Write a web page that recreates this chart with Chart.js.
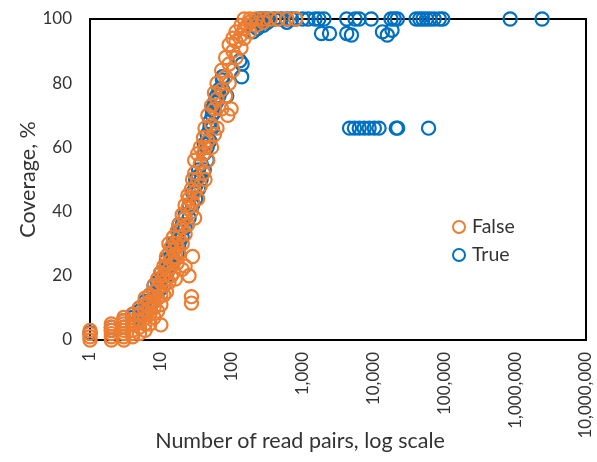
<!DOCTYPE html>
<html>
<head>
<meta charset="utf-8">
<script src="https://cdn.jsdelivr.net/npm/chart.js@4.4.1/dist/chart.umd.min.js"></script>
<style>
    body { margin: 0; background: #fff; }
    #wrap { position: relative; width: 597px; height: 462px; font-family: Lato, "Open Sans", sans-serif; color: #333; }
    #legend { position: absolute; left: 452px; top: 214px; font-size: 19.5px; }
    .item { height: 28px; line-height: 24px; white-space: nowrap; }
    .dot { display: inline-block; width: 10px; height: 10px; border-radius: 50%; border: 2px solid; margin-right: 6px; vertical-align: -1px; }
    #xTitle { position: absolute; left: 0; width: 600px; top: 428px; text-align: center; font-size: 21.5px; line-height: 25px; }
</style>
</head>
<body>
<div id="wrap">
    <canvas id="coverageChart" width="597" height="462"></canvas>
    <div id="legend"></div>
    <div id="xTitle"></div>
</div>
<script>
// Read values
const falseReads = [1, 1, 1, 1, 2, 2, 2, 2, 2, 2, 3, 3, 3, 3, 3, 3, 3, 3, 4, 4, 4, 4, 4, 4,
    5, 5, 5, 5, 5, 6, 6, 6, 6, 6, 6, 7, 7, 7, 7, 7, 8, 8, 8, 8, 8, 9, 9, 9, 9,
    10, 10, 10, 10, 10, 11, 11, 11, 11, 12, 12, 12, 12, 13, 13, 13, 13, 14, 14, 14,
    15, 15, 15, 15, 16, 16, 16, 17, 17, 17, 18, 18, 18, 20, 20, 20, 20, 22, 22, 22, 22,
    24, 24, 24, 25, 25, 27, 27, 27, 27, 28, 28, 28, 30, 30, 30, 30, 33, 33, 33, 36, 36, 36,
    40, 40, 40, 42, 42, 42, 46, 46, 46, 52, 52, 52, 57, 57, 57, 62, 62, 62, 72, 72, 72,
    82, 82, 82, 88, 92, 92, 92, 98, 104, 104, 104, 115, 115, 115, 135, 135, 135, 150, 150, 150,
    165, 180, 180, 180, 220, 220, 280, 280, 350, 450, 600, 800];
const falseCoverage = [0, 1, 2, 3, 0, 1, 2, 3, 4, 5, 0, 1, 2, 3, 4, 5, 6, 7, 1, 2, 3, 5, 6, 8,
    2, 4, 6, 8, 10, 3, 5, 7, 9, 11, 13, 5, 8, 10, 12, 14, 7, 10, 12, 15, 17, 9, 13, 16, 19,
    4.7, 11, 14, 18, 21, 14, 17, 20, 23, 15, 19, 23, 26, 18, 22, 27, 30, 20, 25, 29,
    21, 24, 28, 32, 19, 26, 30, 24, 29, 34, 27, 32, 36, 22, 30, 35, 39, 23, 33, 38, 42,
    36, 41, 45, 20, 44, 11.5, 13.5, 40, 47, 26, 43, 50, 38, 46, 52, 56, 44, 50, 58, 48, 55, 60,
    52, 58, 63, 50, 60, 66, 56, 62, 70, 60, 67, 73, 64, 72, 77, 66, 75, 80, 72, 78, 84,
    76, 82, 88, 70, 80, 86, 92, 72, 84, 90, 94, 88, 93, 96, 91, 95, 98, 94, 97, 100,
    98, 96, 99, 100, 98, 100, 99, 100, 100, 100, 100, 100];

const trueReads = [1, 2, 2, 3, 3, 4, 4, 4, 5, 5, 5, 6, 6, 6, 7, 7, 7, 8, 8, 8, 9, 9,
    10, 10, 10, 12, 12, 12, 13, 13, 14, 14, 15, 15, 15, 17, 17, 18, 18, 18, 20, 20, 22, 22,
    25, 25, 28, 28, 31, 31, 31, 34, 34, 34, 37, 37, 41, 41, 41, 45, 45, 45, 49, 49, 49,
    53, 53, 53, 57, 57, 61, 61, 66, 66, 74, 74, 74, 85, 130, 138, 140,
    200, 200, 230, 230, 250, 250, 280, 280, 320, 320, 400, 500, 600, 600, 700, 800,
    1000, 1200, 1500, 1700, 2000, 1850, 2400, 4200, 4200, 4900, 5500, 6300, 9300,
    13400, 15700, 18300, 17700, 19700, 21800, 40000, 45000, 50000, 56000, 63000, 72000,
    85000, 95000, 850000, 2400000,
    4600, 5400, 6300, 7400, 8700, 10300, 12000, 21000, 22000, 60000];
const trueCoverage = [2.2, 3, 4, 4, 6, 5, 7, 8, 7, 9, 10, 8, 10, 12, 10, 12, 14, 12, 15, 17, 15, 18,
    16, 19, 21, 20, 23, 25, 22, 24, 23, 26, 25, 28, 30, 27, 31, 30, 34, 36, 32, 36, 35, 39,
    38, 42, 42, 46, 44, 48, 50, 47, 51, 53, 50, 55, 53, 58, 61, 56, 60, 64, 62, 66, 68,
    66, 70, 72, 71, 74, 74, 76, 76, 78, 78, 81, 82, 76, 87, 82, 86,
    96, 98, 97, 99, 99, 100, 98, 100, 99, 100, 100, 100, 99, 100, 100, 100,
    100, 100, 100, 100, 100, 95.5, 95.5, 100, 95.5, 95, 100, 100, 100,
    96, 95, 96.5, 100, 100, 100, 100, 100, 100, 100, 100, 100,
    100, 100, 100, 100,
    66, 66, 66, 66, 66, 66, 66, 66, 66, 66];

const seriesNames = ['False', 'True'];
const seriesColors = ['#ED7D31', '#0070C0'];
const xTickValues = [1, 10, 100, 1000, 10000, 100000, 1000000, 10000000];
const yTickValues = [0, 20, 40, 60, 80, 100];
const xAxisTitle = 'Number of read pairs, log scale';
const yAxisTitle = 'Coverage, %';

const fontFamily = 'Lato, "Open Sans", sans-serif';
const textColor = '#333';

// Pair read counts with coverage
function toPoints(reads, coverage) {
    return reads.map((r, i) => ({ x: r, y: coverage[i] }));
}

// Fixed axis box sizes, and no extra label padding, so the plot area lands where it should
function fixBox(size) {
    return function (s) {
        if (s.isHorizontal()) s.height = size; else s.width = size;
        s.paddingLeft = s.paddingRight = s.paddingTop = s.paddingBottom = 0;
    };
}

// Box round the plot area, like the Excel frame
const frame = {
    id: 'frame',
    beforeDatasetsDraw(chart) {
        const a = chart.chartArea;
        const ctx = chart.ctx;
        ctx.save();
        ctx.strokeStyle = '#000';
        ctx.lineWidth = 2;
        ctx.strokeRect(a.left, a.top, a.right - a.left, a.bottom - a.top);
        ctx.restore();
    }
};

function buildLegend() {
    const box = document.getElementById('legend');
    seriesNames.forEach((name, i) => {
        const row = document.createElement('div');
        row.className = 'item';
        row.innerHTML = '<span class="dot" style="border-color:' + seriesColors[i] + '"></span>' + name;
        box.appendChild(row);
    });
    // the x title sits centred on the whole figure, not on the plot area
    document.getElementById('xTitle').textContent = xAxisTitle;
}

function renderChart() {
    const ctx = document.getElementById('coverageChart').getContext('2d');
    const sets = [toPoints(falseReads, falseCoverage), toPoints(trueReads, trueCoverage)];

    new Chart(ctx, {
        type: 'scatter',
        data: {
            datasets: sets.map((pts, i) => ({
                label: seriesNames[i],
                data: pts,
                borderColor: seriesColors[i],
                backgroundColor: 'rgba(0,0,0,0)',
                pointRadius: 6.6,
                pointBorderWidth: 2.2,
                pointHoverRadius: 6.6,
                clip: false
            }))
        },
        options: {
            responsive: false,
            animation: false,
            layout: { padding: { top: 19, right: 11, bottom: 0, left: 0 } },
            plugins: { legend: { display: false }, tooltip: { enabled: false } },
            scales: {
                x: {
                    type: 'logarithmic',
                    min: 1,
                    max: 10000000,
                    grid: { display: false, drawTicks: false },
                    border: { display: false },
                    afterBuildTicks: s => { s.ticks = xTickValues.map(v => ({ value: v })); },
                    afterFit: fixBox(122),
                    ticks: {
                        minRotation: 90,
                        maxRotation: 90,
                        padding: 12,
                        color: textColor,
                        font: { family: fontFamily, size: 17 },
                        callback: v => Number(v).toLocaleString('en-US')
                    }
                },
                y: {
                    min: 0,
                    max: 100,
                    grid: { display: false, drawTicks: false },
                    border: { display: false },
                    afterBuildTicks: s => { s.ticks = yTickValues.map(v => ({ value: v })); },
                    afterFit: fixBox(90),
                    ticks: {
                        padding: 18,
                        color: textColor,
                        font: { family: fontFamily, size: 17 }
                    },
                    title: {
                        display: true,
                        text: yAxisTitle,
                        color: textColor,
                        font: { family: fontFamily, size: 21.5 },
                        padding: { top: 15, bottom: 0 }
                    }
                }
            }
        },
        plugins: [frame]
    });
}

document.addEventListener('DOMContentLoaded', function () {
    buildLegend();
    renderChart();
});
</script>
</body>
</html>
